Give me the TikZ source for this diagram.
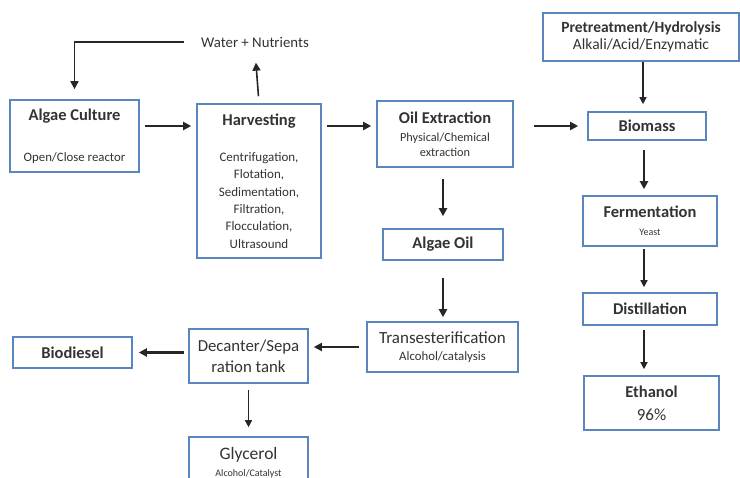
\documentclass[tikz,border=0pt]{standalone}
\usepackage{fontspec}
\setmainfont{Carlito}
\usetikzlibrary{arrows.meta}
\definecolor{boxblue}{HTML}{5A86C0}
\definecolor{inkgray}{HTML}{333333}
\definecolor{arrowink}{HTML}{262626}

\newcommand{\boxtitle}[1]{{\fontsize{16.5}{18}\selectfont\bfseries #1}}
\newcommand{\boxnote}[1]{{\fontsize{12.8}{15}\selectfont #1}}

\tikzset{
  procbox/.style={draw=boxblue, line width=1.6pt, fill=white, text=inkgray,
    align=center, inner sep=0pt},
  flow/.style={draw=arrowink, line width=2.2pt, -{Triangle[length=8pt,width=8pt]},
    shorten <=5pt, shorten >=5pt},
  thinflow/.style={flow, line width=1.4pt, -{Triangle[length=7pt,width=7pt]}}
}

\begin{document}
\begin{tikzpicture}[x=1pt, y=-1pt]
  \clip (0,0) rectangle (740,478);
  \fill[white] (0,0) rectangle (740,478);

  \node[procbox, minimum width=129pt, minimum height=72pt] (culture) at (74.5,136)
    {\boxtitle{Algae Culture}\\[29pt]\boxnote{Open/Close reactor}};
  \node[procbox, minimum width=124pt, minimum height=154pt,
    font=\fontsize{13}{17.3}\selectfont] (harvest) at (259,181)
    {\boxtitle{Harvesting}\\[19pt]
     Centrifugation,\\ Flotation,\\ Sedimentation,\\
     Filtration,\\ Flocculation,\\ Ultrasound};
  \node[text=inkgray, font=\fontsize{14.8}{16}\selectfont] (water) at (255,42)
    {Water + Nutrients};
  \node[procbox, minimum width=136pt, minimum height=66pt,
    font=\fontsize{12.3}{15}\selectfont] (oilext) at (445,134)
    {\boxtitle{Oil Extraction}\\[3pt] Physical/Chemical\\ extraction};
  \node[procbox, minimum width=196pt, minimum height=48pt,
    font=\fontsize{15.5}{17}\selectfont] (pretreat) at (641,37)
    {{\fontsize{15.5}{17}\selectfont\bfseries Pretreatment/Hydrolysis}\\[0pt] Alkali/Acid/Enzymatic};
  \node[procbox, minimum width=118pt, minimum height=28pt] (biomass) at (647,126)
    {\boxtitle{Biomass}};
  \node[procbox, minimum width=134pt, minimum height=50pt,
    font=\fontsize{10}{11}\selectfont] (ferment) at (650,221)
    {\boxtitle{Fermentation}\\[7pt] Yeast};
  \node[procbox, minimum width=134pt, minimum height=32pt] (distill) at (650,309)
    {\boxtitle{Distillation}};
  \node[procbox, minimum width=135pt, minimum height=54pt,
    font=\fontsize{17}{19}\selectfont] (ethanol) at (651.5,403)
    {\boxtitle{Ethanol}\\[4pt] 96\%};
  \node[procbox, minimum width=120pt, minimum height=31pt] (algaeoil) at (443,244.5)
    {\boxtitle{Algae Oil}};
  \node[procbox, minimum width=151pt, minimum height=50pt,
    font=\fontsize{12.8}{14}\selectfont] (trans) at (442.5,347)
    {{\fontsize{17}{18}\selectfont Transesterification}\\[3pt] Alcohol/catalysis};
  \node[procbox, minimum width=119pt, minimum height=54pt,
    font=\fontsize{16.8}{21}\selectfont] (decanter) at (248.5,356)
    {Decanter/Sepa\\ ration tank};
  \node[procbox, minimum width=119pt, minimum height=31pt] (biodiesel) at (72.5,352.5)
    {\boxtitle{Biodiesel}};
  \node[procbox, minimum width=119pt, minimum height=52pt,
    font=\fontsize{10}{11}\selectfont] (glycerol) at (248.5,463)
    {{\fontsize{17.5}{19}\selectfont Glycerol}\\[6pt] Alcohol/Catalyst};

  \draw[flow, line width=1.6pt, shorten <=14pt, shorten >=10pt] (water.west) -| (culture.north);
  \draw[flow, line width=1.6pt, shorten <=7pt, shorten >=12pt] (harvest.north) -- (water.south);
  \draw[flow] (culture.east |- biomass) -- (harvest.west |- biomass);
  \draw[flow] (harvest.east |- biomass) -- (oilext.west |- biomass);
  \draw[flow, shorten <=20pt, shorten >=9pt] (oilext.east |- biomass) -- (biomass.west);
  \draw[thinflow, shorten <=0pt, shorten >=7pt] ([xshift=-4pt]biomass.north |- pretreat.south) -- ([xshift=-4pt]biomass.north);
  \draw[flow, shorten <=9pt, shorten >=6pt] ([xshift=-3pt]biomass.south) -- ([xshift=-3pt]biomass.south |- ferment.north);
  \draw[thinflow, shorten <=2pt] ([xshift=-3pt]ferment.south -| biomass) -- ([xshift=-3pt]distill.north -| biomass);
  \draw[thinflow, shorten <=4pt, shorten >=6pt] ([xshift=-3pt]distill.south -| biomass) -- ([xshift=-3pt]ethanol.north -| biomass);
  \draw[flow, shorten <=11pt, shorten >=12pt] (algaeoil.north |- oilext.south) -- (algaeoil.north);
  \draw[flow, shorten <=17pt, shorten >=4pt] (algaeoil.south) -- (algaeoil.south |- trans.north);
  \draw[flow, line width=2.6pt, shorten <=7pt] (trans.west) -- (decanter.east |- trans);
  \draw[flow, line width=2.6pt, shorten <=4pt, shorten >=6pt] (decanter.west |- biodiesel) -- (biodiesel.east);
  \draw[thinflow, shorten <=6pt, shorten >=9pt] (decanter.south) -- (glycerol.north);
\end{tikzpicture}
\end{document}
